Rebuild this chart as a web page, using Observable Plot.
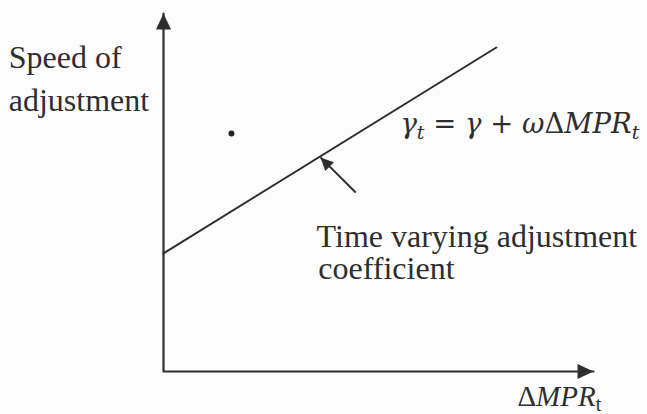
<!DOCTYPE html>
<html>
<head>
<meta charset="utf-8">
<script src="https://cdn.jsdelivr.net/npm/d3@7"></script>
<script src="https://cdn.jsdelivr.net/npm/@observablehq/plot@0.6"></script>
<style>
  html, body { margin: 0; padding: 0; background: #fcfcfc; }
  #chart svg text { white-space: pre; }
</style>
</head>
<body>
<div id="chart"></div>
<script>
// ---- Data (abstract diagram units; origin at the axes' corner) ----
// Axes: y-axis top end, origin, x-axis right end
const axisX = [0, 0, 10];
const axisY = [10, 0, 0];
// Axis arrow-head positions and directions
const headX = [0, 10];
const headY = [10, 0];
const headDir = [0, 90];
// Time-varying adjustment line
const lineX = [0, 7.74];
const lineY = [3.30, 9.05];
// Pointer arrow (tail -> tip)
const pointerX = [4.47, 3.65];
const pointerY = [5.00, 5.98];
// Stray bullet point
const dotX = [1.58];
const dotY = [6.65];
// Plain labels
const labelText = ["Speed of", "adjustment", "Time varying adjustment", "coefficient"];
const labelX = [-3.6, -3.6, 3.56, 3.60];
const labelY = [8.49, 7.29, 3.49, 2.58];
// Formula label ("_" marks a subscript)
const formulaText = ["γ_t = γ + ωΔMPR_t"];
const formulaX = [5.51];
const formulaY = [6.65];
// X-axis title
const xTitleText = ["ΔMPR_t"];
const xTitleX = [8.23];
const xTitleY = [-0.96];

// ---- Build tables ----
const axisPts = axisX.map((x, i) => ({x, y: axisY[i]}));
const heads = headX.map((x, i) => ({x, y: headY[i], r: headDir[i]}));
const linePts = lineX.map((x, i) => ({x, y: lineY[i]}));
const pointer = [{x1: pointerX[0], y1: pointerY[0], x2: pointerX[1], y2: pointerY[1]}];
const dots = dotX.map((x, i) => ({x, y: dotY[i]}));
const labels = labelText.map((t, i) => ({t, x: labelX[i], y: labelY[i]}));
const formula = formulaText.map((t, i) => ({t, x: formulaX[i], y: formulaY[i]}));
const xTitle = xTitleText.map((t, i) => ({t, x: xTitleX[i], y: xTitleY[i]}));

// Filled triangular arrow head, tip at the anchor point, pointing up
const headSymbol = {
  draw(context, size) {
    const k = Math.sqrt(size / Math.PI);
    context.moveTo(0, 0);
    context.lineTo(-0.47 * k, k);
    context.lineTo(0.47 * k, k);
    context.closePath();
  }
};

const ink = "#2e2e2e";

const chart = Plot.plot({
  width: 647,
  height: 414,
  marginLeft: 163,
  marginRight: 54,
  marginTop: 13,
  marginBottom: 43,
  x: {domain: [0, 10], axis: null},
  y: {domain: [0, 10], axis: null},
  style: {background: "transparent", overflow: "visible"},
  marks: [
    Plot.line(axisPts, {x: "x", y: "y", stroke: ink, strokeWidth: 2.2, curve: "linear"}),
    Plot.dot(heads, {x: "x", y: "y", rotate: "r", symbol: headSymbol, r: 16, fill: ink, stroke: "none"}),
    Plot.line(linePts, {x: "x", y: "y", stroke: ink, strokeWidth: 2}),
    Plot.link(pointer, {x1: "x1", y1: "y1", x2: "x2", y2: "y2", stroke: ink, strokeWidth: 2}),
    Plot.dot(pointer, {x: "x2", y: "y2", rotate: -45, symbol: headSymbol, r: 13, fill: ink, stroke: "none"}),
    Plot.dot(dots, {x: "x", y: "y", r: 3, fill: "#222", stroke: "none"}),
    Plot.text(labels, {x: "x", y: "y", text: "t", textAnchor: "start", lineAnchor: "bottom",
      fontSize: 32, fontFamily: "Liberation Serif", fill: ink}),
    Plot.text(formula, {x: "x", y: "y", text: "t", textAnchor: "start", lineAnchor: "bottom",
      fontSize: 27.5, fontFamily: "DejaVu Serif", fill: ink}),
    Plot.text(xTitle, {x: "x", y: "y", text: "t", textAnchor: "start", lineAnchor: "bottom",
      fontSize: 29, fontFamily: "Liberation Serif", fill: ink})
  ]
});

document.getElementById("chart").appendChild(chart);

// Typeset math labels: italic letters, upright Greek capitals/operators, subscripts
const NS = "http://www.w3.org/2000/svg";
function typeset(el, subSize, subDy, romanSub, subFont) {
  const s = el.textContent;
  el.textContent = "";
  let pendingDy = null;
  const add = (str, attrs) => {
    const t = document.createElementNS(NS, "tspan");
    t.textContent = str;
    for (const k in attrs) t.setAttribute(k, attrs[k]);
    if (pendingDy !== null && !("dy" in attrs)) { t.setAttribute("dy", pendingDy); pendingDy = null; }
    el.appendChild(t);
  };
  for (let i = 0; i < s.length; i++) {
    const c = s[i];
    if (c === "_") {
      const n = s[++i];
      const a = {"font-size": subSize, "dy": subDy, "font-style": romanSub ? "normal" : "italic"};
      if (subFont) a["font-family"] = subFont;
      add(n, a);
      pendingDy = String(-subDy);
    } else if ("Δ=+ ".includes(c)) {
      add(c, {"font-style": "normal"});
    } else {
      add(c, {"font-style": "italic"});
    }
  }
}
chart.querySelectorAll("text").forEach(el => {
  const s = el.textContent;
  if (formulaText.includes(s)) typeset(el, 19, 6, false, null);
  else if (xTitleText.includes(s)) typeset(el, 20, 5, true, "Liberation Serif");
});
</script>
</body>
</html>
